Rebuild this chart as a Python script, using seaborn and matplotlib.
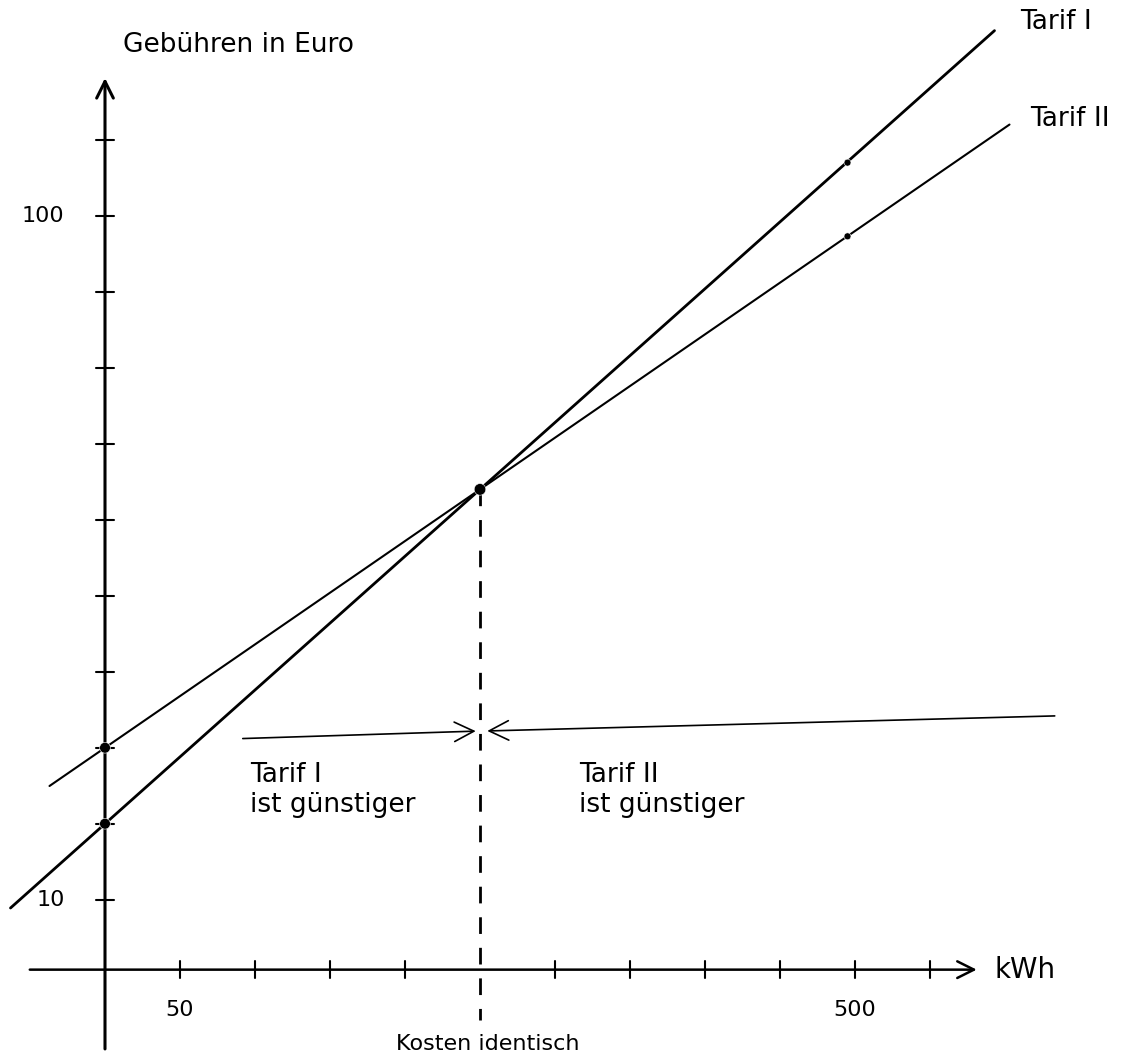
import numpy as np
import pandas as pd
import seaborn as sns
import matplotlib.pyplot as plt

# Verbrauch in kWh und Gebühren in Euro
tarif1_base = 20
tarif1_rate = 0.176
tarif2_base = 30
tarif2_rate = 0.136
break_even_kwh = 250
break_even_eur = 64
marked_kwh = [0, 0, 250, 495, 495]
marked_eur = [20, 30, 64, 107, 97.3]
marked_size = [60, 60, 70, 25, 25]
x_ticks = [50, 100, 150, 200, 300, 350, 400, 450, 500, 550]
x_labels = {50: "50", 500: "500"}
y_ticks = [10, 20, 30, 40, 50, 60, 70, 80, 90, 100, 110]
y_labels = {10: "10", 100: "100"}

sns.set_theme(style="white")
plt.rcParams['font.family'] = ['DejaVu Sans']
plt.rcParams['text.color'] = 'black'

t1 = pd.DataFrame({"kWh": [-63, 593]})
t1["Euro"] = tarif1_base + tarif1_rate * t1["kWh"]
t2 = pd.DataFrame({"kWh": [-37, 603]})
t2["Euro"] = tarif2_base + tarif2_rate * t2["kWh"]

fig = plt.figure(figsize=(11.43, 10.54), dpi=100)
ax = fig.add_axes([0, 0, 1, 1])
ax.set_xlim(-70, 692)
ax.set_ylim(-10.3, 128.4)
ax.axis("off")

# Achsen
ax.annotate("", xy=(583, 0.8), xytext=(-52, 0.8),
            arrowprops=dict(arrowstyle="->", color="black", lw=1.8,
                            mutation_scale=30))
ax.annotate("", xy=(0, 118.5), xytext=(0, -10),
            arrowprops=dict(arrowstyle="->", color="black", lw=2.2,
                            mutation_scale=30))
for x in x_ticks:
    ax.plot([x, x], [-0.3, 2.0], color="black", lw=1.5)
for y in y_ticks:
    ax.plot([-6, 6], [y, y], color="black", lw=1.5)
for x, lab in x_labels.items():
    ax.text(x, -4.5, lab, ha="center", va="center", fontsize=16)
for y, lab in y_labels.items():
    ax.text(-27, y, lab, ha="right", va="center", fontsize=16)

# Tarif-Geraden
sns.lineplot(data=t1, x="kWh", y="Euro", ax=ax, color="black", lw=2.0)
sns.lineplot(data=t2, x="kWh", y="Euro", ax=ax, color="black", lw=1.5)
sns.scatterplot(x=marked_kwh, y=marked_eur, size=marked_size,
                sizes=(25, 70), legend=False, ax=ax, color="black",
                zorder=5)

# Schnittpunkt
ax.plot([break_even_kwh, break_even_kwh], [break_even_eur, -5.8],
        color="black", lw=2.0, ls=(0, (6, 5)))
ax.annotate("", xy=(249, 32.2), xytext=(90, 31.2),
            arrowprops=dict(arrowstyle="->", color="black", lw=1.2,
                            mutation_scale=35))
ax.annotate("", xy=(253, 32.2), xytext=(635, 34.2),
            arrowprops=dict(arrowstyle="->", color="black", lw=1.2,
                            mutation_scale=35))

# Beschriftungen
ax.text(12, 122.5, "Gebühren in Euro", fontsize=19, va="center")
ax.text(610, 125.5, "Tarif I", fontsize=19, va="center")
ax.text(617, 112.8, "Tarif II", fontsize=19, va="center")
ax.text(593, 0.8, "kWh", fontsize=20, va="center")
ax.text(97, 24.5, "Tarif I\nist günstiger", fontsize=19, va="center",
        linespacing=1.2)
ax.text(316, 24.5, "Tarif II\nist günstiger", fontsize=19, va="center",
        linespacing=1.2)
ax.text(255, -9, "Kosten identisch", fontsize=16, ha="center", va="center")

fig.savefig("out.png", dpi=100)
